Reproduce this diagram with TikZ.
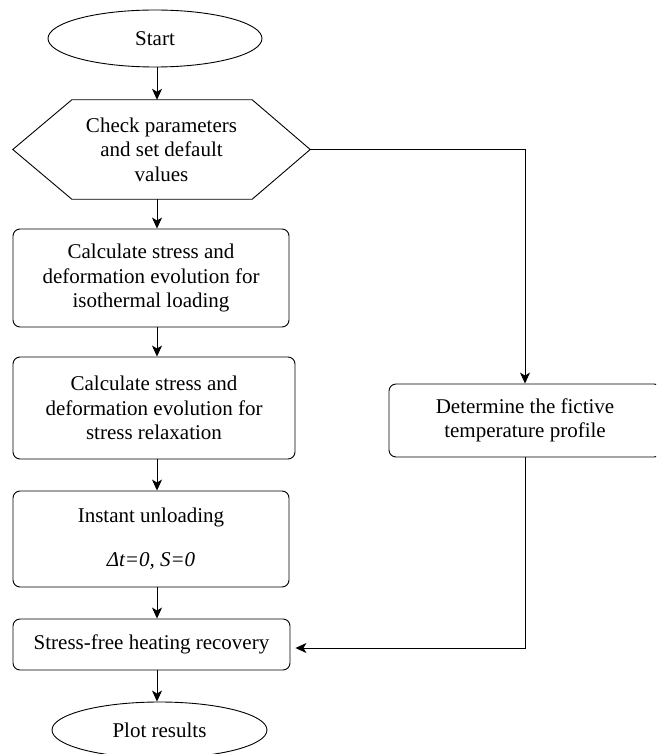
\documentclass[tikz,border=0pt]{standalone}
\usepackage{fontspec}
\setmainfont{Liberation Serif}
\usetikzlibrary{shapes.geometric,arrows.meta}
\begin{document}
\begin{tikzpicture}[x=1pt,y=-1pt,
  every node/.style={font=\fontsize{21}{24.5}\selectfont, align=center, inner sep=0pt},
  flowbox/.style={draw, rounded corners=7pt, line width=0.9pt},
  term/.style={ellipse, draw, line width=0.9pt},
  arr/.style={-{Stealth[length=11pt,width=10pt,inset=3pt]}, line width=0.9pt},
  link/.style={line width=0.9pt}]
\clip (0,0) rectangle (656,754);
\coordinate (ax) at (157,0);
\node[term, minimum width=214pt, minimum height=57pt] (start) at (155,38.5) {Start};
\node[minimum width=297pt, minimum height=99pt, text depth=0pt] (hex) at (161.5,149.5)
  {\fontsize{21}{23}\selectfont Check parameters\\and set default\\values};
\draw[link] (hex.west) -- ([xshift=59pt]hex.north west) -- ([xshift=-58pt]hex.north east)
  -- (hex.east) -- ([xshift=-58pt]hex.south east) -- ([xshift=59pt]hex.south west) -- cycle;
\node[flowbox, minimum width=276pt, minimum height=98pt] (b1) at (151,278)
  {Calculate stress and\\deformation evolution for\\isothermal loading};
\node[flowbox, minimum width=282pt, minimum height=102pt] (b2) at (154,408)
  {Calculate stress and\\deformation evolution for\\stress relaxation};
\node[flowbox, minimum width=276pt, minimum height=96pt] (b3) at (151,539)
  {Instant unloading\\[19.5pt]{\itshape Δt=0, S=0}};
\node[flowbox, minimum width=277pt, minimum height=51pt] (b4) at (151.5,644.5)
  {Stress-free heating recovery};
\node[flowbox, minimum width=272pt, minimum height=73pt] (fic) at (525,420.5)
  {Determine the fictive\\temperature profile};
\node[term, minimum width=215pt, minimum height=56pt] (plot) at (159.5,730) {Plot results};
\draw[arr] (start.south -| ax) -- (hex.north -| ax);
\draw[arr] (hex.south -| ax) -- (b1.north -| ax);
\draw[arr] (b1.south -| ax) -- (b2.north -| ax);
\draw[arr] (b2.south -| ax) -- (b3.north -| ax);
\draw[arr] (b3.south -| ax) -- (b4.north -| ax);
\draw[arr] (b4.south -| ax) -- (plot.north -| ax);
\draw[arr] (hex.east) -| (fic.north);
\coordinate (ret) at (525,648);
\draw[arr, shorten >=5pt] (fic.south) -- (ret) -- (b4.east |- ret);
\end{tikzpicture}
\end{document}
